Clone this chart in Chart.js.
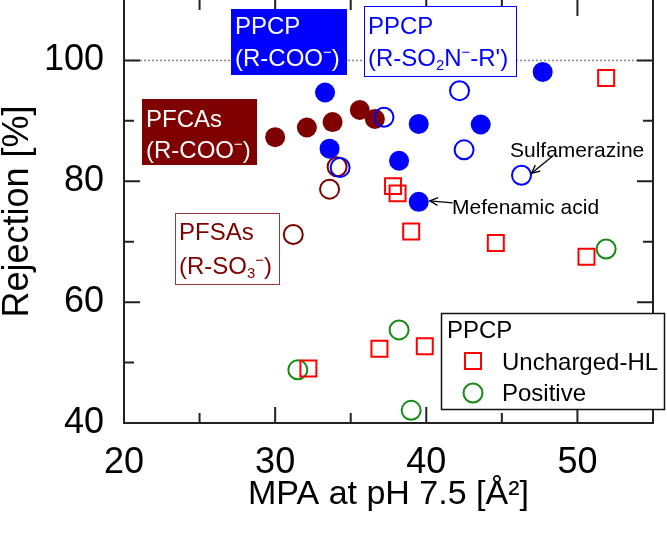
<!DOCTYPE html>
<html><head><meta charset="utf-8">
<script src="https://cdn.jsdelivr.net/npm/chart.js@4/dist/chart.umd.min.js"></script>
<style>html,body{margin:0;padding:0;background:#fff}#wrap{width:667px;height:537px}</style>
</head><body><div id="wrap"><canvas id="c" width="667" height="537"></canvas></div>
<script>
// ---- data ----
const xTickLabels=[20,30,40,50];
const yTickLabels=[40,60,80,100];
const ppcpCooX=[33.3,33.6,39.5,38.2,39.5,43.6,47.7];
const ppcpCooY=[94.7,85.4,89.5,83.4,76.6,89.4,98.1];
const ppcpSulfX=[37.2,34.3,42.2,42.5,46.3];
const ppcpSulfY=[90.6,82.3,95.0,85.2,81.0];
const pfcaX=[30.0,32.1,33.8,35.6,36.6];
const pfcaY=[87.3,88.9,89.8,91.8,90.3];
const pfsaX=[33.6,31.2,34.1];
const pfsaY=[78.7,71.2,82.4];
const unchX=[37.8,38.1,39.0,44.6,50.6,51.9,36.9,39.9,32.2];
const unchY=[79.2,78.0,71.7,69.8,67.5,97.1,52.3,52.7,49.0];
const posX=[31.5,38.2,39.0,51.9];
const posY=[48.8,55.4,42.1,68.8];
const refLineY=100;

const FONT='"Liberation Sans", Arial, sans-serif';
const BLUE='#0000ff', DRED='#7f0000', RED='#ff0000', GREEN='#168a16';
const zip=(xs,ys)=>xs.map((x,i)=>({x,y:ys[i]}));

function drawRich(ctx,x,y,parts,size,color){
  let cx=x;
  ctx.textBaseline='alphabetic';ctx.textAlign='left';ctx.fillStyle=color;
  for(const p of parts){
    let fs=size,dy=0;
    if(p.s==='sup'){fs=size*0.62;dy=-size*0.36;}
    if(p.s==='sub'){fs=size*0.62;dy=size*0.18;}
    ctx.font=fs+'px '+FONT;
    ctx.fillText(p.t,cx,y+dy);
    cx+=ctx.measureText(p.t).width;
  }
}
function arrow(ctx,x1,y1,x2,y2){
  ctx.save();ctx.strokeStyle='#000';ctx.lineWidth=1.3;
  ctx.beginPath();ctx.moveTo(x1,y1);ctx.lineTo(x2,y2);ctx.stroke();
  const a=Math.atan2(y2-y1,x2-x1),L=9,w=0.45;
  ctx.beginPath();
  ctx.moveTo(x2-L*Math.cos(a-w),y2-L*Math.sin(a-w));
  ctx.lineTo(x2,y2);
  ctx.lineTo(x2-L*Math.cos(a+w),y2-L*Math.sin(a+w));
  ctx.stroke();ctx.restore();
}

const framePlugin={
  id:'frame',
  beforeDatasetsDraw(chart){
    const ctx=chart.ctx,a=chart.chartArea,xs=chart.scales.x,ys=chart.scales.y;
    ctx.save();
    const yr=ys.getPixelForValue(refLineY);
    ctx.strokeStyle='#8a8a8a';ctx.lineWidth=1.5;ctx.setLineDash([2,2]);
    ctx.beginPath();ctx.moveTo(a.left,yr);ctx.lineTo(a.right,yr);ctx.stroke();
    ctx.setLineDash([]);
    ctx.strokeStyle='#222';ctx.lineWidth=2;
    ctx.beginPath();
    ctx.moveTo(a.left,a.top);ctx.lineTo(a.left,a.bottom);ctx.lineTo(a.right,a.bottom);ctx.lineTo(a.right,a.top);
    ctx.stroke();
    ctx.beginPath();
    xs.ticks.forEach(t=>{
      if(t.value<=xs.min||t.value>=xs.max)return;
      const px=xs.getPixelForValue(t.value);
      const L=xTickLabels.includes(t.value)?16:10;
      ctx.moveTo(px,a.bottom);ctx.lineTo(px,a.bottom-L);
      ctx.moveTo(px,a.top);ctx.lineTo(px,a.top+L);
    });
    ys.ticks.forEach(t=>{
      if(t.value<=ys.min||t.value>=ys.max)return;
      const py=ys.getPixelForValue(t.value);
      const L=yTickLabels.includes(t.value)?16:10;
      ctx.moveTo(a.left,py);ctx.lineTo(a.left+L,py);
      ctx.moveTo(a.right,py);ctx.lineTo(a.right-L,py);
    });
    ctx.stroke();
    ctx.restore();
  },
  afterDatasetsDraw(chart){
    const ctx=chart.ctx,xs=chart.scales.x,ys=chart.scales.y;
    ctx.save();
    const S=24;
    ctx.fillStyle=BLUE;ctx.fillRect(231,9,116,66);
    drawRich(ctx,235,34,[{t:'PPCP'}],S,'#fff');
    drawRich(ctx,235,66,[{t:'(R-COO'},{t:'\u2212',s:'sup'},{t:')'}],S,'#fff');
    ctx.fillStyle='#fff';ctx.fillRect(364,6,153,71);
    ctx.strokeStyle=BLUE;ctx.lineWidth=1;ctx.strokeRect(364.5,6.5,152,70);
    drawRich(ctx,368,34,[{t:'PPCP'}],S,BLUE);
    drawRich(ctx,368,66,[{t:'(R-SO'},{t:'2',s:'sub'},{t:'N'},{t:'\u2212',s:'sup'},{t:'-R\')'}],S,BLUE);
    ctx.fillStyle=DRED;ctx.fillRect(142,99,115,66);
    drawRich(ctx,146,127,[{t:'PFCAs'}],S,'#fff');
    drawRich(ctx,146,158,[{t:'(R-COO'},{t:'\u2212',s:'sup'},{t:')'}],S,'#fff');
    ctx.fillStyle='#fff';ctx.fillRect(175,213,105,72);
    ctx.strokeStyle='#9a3a3a';ctx.lineWidth=1;ctx.strokeRect(175.5,213.5,104,71);
    drawRich(ctx,179,240,[{t:'PFSAs'}],S,DRED);
    drawRich(ctx,179,274,[{t:'(R-SO'},{t:'3',s:'sub'},{t:'\u2212',s:'sup'},{t:')'}],S,DRED);
    const sx=xs.getPixelForValue(ppcpSulfX[4]),sy=ys.getPixelForValue(ppcpSulfY[4]);
    drawRich(ctx,510,157,[{t:'Sulfamerazine'}],21,'#000');
    arrow(ctx,sx+31,sy-19,sx+10,sy-2);
    const mx=xs.getPixelForValue(ppcpCooX[4]),my=ys.getPixelForValue(ppcpCooY[4]);
    drawRich(ctx,452,214,[{t:'Mefenamic acid'}],21,'#000');
    arrow(ctx,mx+34,my+1,mx+11,my-1);
    ctx.fillStyle='#fff';ctx.fillRect(441,313,224,97);
    ctx.strokeStyle='#111';ctx.lineWidth=1.5;ctx.strokeRect(441.5,313.5,223,96);
    drawRich(ctx,447,338,[{t:'PPCP'}],S,'#000');
    ctx.strokeStyle=RED;ctx.lineWidth=2;ctx.strokeRect(465,353,16,16);
    drawRich(ctx,502,370,[{t:'Uncharged-HL'}],S,'#000');
    ctx.strokeStyle=GREEN;ctx.lineWidth=2;ctx.beginPath();ctx.arc(473,393,9.5,0,Math.PI*2);ctx.stroke();
    drawRich(ctx,502,401,[{t:'Positive'}],S,'#000');
    ctx.restore();
  }
};

function zeroPad(s){s.paddingTop=0;s.paddingBottom=0;s.paddingLeft=0;s.paddingRight=0;}
const common={showLine:false,clip:false};
new Chart(document.getElementById('c'),{
  type:'scatter',
  data:{datasets:[
    {...common,label:'PPCP (R-SO2N−-R\')',data:zip(ppcpSulfX,ppcpSulfY),pointStyle:'circle',pointRadius:9.5,pointBackgroundColor:'rgba(0,0,0,0)',pointBorderColor:BLUE,pointBorderWidth:2},
    {...common,label:'PPCP (R-COO−)',data:zip(ppcpCooX,ppcpCooY),pointStyle:'circle',pointRadius:10,pointBackgroundColor:BLUE,pointBorderColor:BLUE,pointBorderWidth:0},
    {...common,label:'PFCAs (R-COO−)',data:zip(pfcaX,pfcaY),pointStyle:'circle',pointRadius:10,pointBackgroundColor:DRED,pointBorderColor:DRED,pointBorderWidth:0},
    {...common,label:'PFSAs (R-SO3−)',data:zip(pfsaX,pfsaY),pointStyle:'circle',pointRadius:9.5,pointBackgroundColor:'rgba(0,0,0,0)',pointBorderColor:DRED,pointBorderWidth:2},
    {...common,label:'Uncharged-HL',data:zip(unchX,unchY),pointStyle:'rect',pointRadius:11.3,pointBackgroundColor:'rgba(0,0,0,0)',pointBorderColor:RED,pointBorderWidth:2},
    {...common,label:'Positive',data:zip(posX,posY),pointStyle:'circle',pointRadius:9.5,pointBackgroundColor:'rgba(0,0,0,0)',pointBorderColor:GREEN,pointBorderWidth:2}
  ]},
  options:{
    responsive:false,animation:false,devicePixelRatio:1,
    layout:{autoPadding:false,padding:{top:0,right:14,left:0,bottom:0}},
    plugins:{legend:{display:false},tooltip:{enabled:false}},
    scales:{
      x:{type:'linear',position:'bottom',min:20,max:55,
        afterFit(s){s.height=114;zeroPad(s);},
        grid:{display:false},border:{display:false},
        ticks:{stepSize:5,autoSkip:false,maxRotation:0,padding:10,color:'#000',font:{family:FONT,size:36},
          callback:v=>xTickLabels.includes(v)?String(v):''},
        title:{display:true,text:'MPA at pH 7.5 [Å²]',color:'#000',font:{family:FONT,size:34,lineHeight:1},padding:{top:0,bottom:25}}
      },
      y:{type:'linear',min:40,max:110,
        afterFit(s){s.width=124;zeroPad(s);},
        grid:{display:false},border:{display:false},
        ticks:{stepSize:10,autoSkip:false,padding:12,color:'#000',font:{family:FONT,size:36},
          callback:v=>yTickLabels.includes(v)?String(v):''},
        title:{display:true,text:'Rejection [%]',color:'#000',font:{family:FONT,size:36,lineHeight:1},padding:{top:0,bottom:0}}
      }
    }
  },
  plugins:[framePlugin]
});
</script></body></html>
